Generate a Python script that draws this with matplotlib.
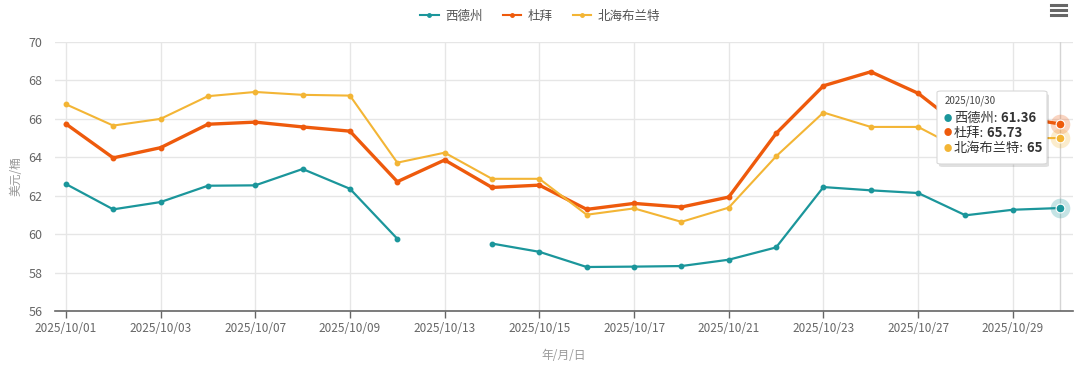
import numpy as np
import matplotlib
matplotlib.use("Agg")
import matplotlib.pyplot as plt
from matplotlib.patches import FancyBboxPatch
from matplotlib.lines import Line2D
from matplotlib.text import Annotation

plt.rcParams['font.family'] = ['Noto Sans CJK SC', 'DejaVu Sans']

# trading days (category axis)
dates = ["2025/10/01", "2025/10/02", "2025/10/03", "2025/10/06", "2025/10/07", "2025/10/08",
         "2025/10/09", "2025/10/10", "2025/10/13", "2025/10/14", "2025/10/15", "2025/10/16",
         "2025/10/17", "2025/10/20", "2025/10/21", "2025/10/22", "2025/10/23", "2025/10/24",
         "2025/10/27", "2025/10/28", "2025/10/29", "2025/10/30"]

wti = [62.61, 61.29, 61.67, 62.52, 62.54, 63.39, 62.36, 59.76, np.nan, 59.51, 59.08, 58.29,
       58.31, 58.34, 58.67, 59.31, 62.45, 62.28, 62.14, 60.98, 61.27, 61.36]
dubai = [65.74, 63.97, 64.50, 65.72, 65.83, 65.58, 65.36, 62.73, 63.86, 62.43, 62.55, 61.29,
         61.60, 61.41, 61.93, 65.24, 67.72, 68.45, 67.33, 65.40, 66.15, 65.73]
brent = [66.76, 65.65, 66.00, 67.18, 67.40, 67.25, 67.21, 63.72, 64.24, 62.88, 62.88, 61.01,
         61.34, 60.64, 61.38, 64.05, 66.33, 65.58, 65.58, 64.30, 65.00, 65.00]

names = ["西德州", "杜拜", "北海布兰特"]
colors = ["#1b969b", "#ee5a0c", "#f3b535"]
series = [wti, dubai, brent]
widths = [1.6, 2.4, 1.5]

fig = plt.figure(figsize=(10.8, 3.71), dpi=100)
ax = fig.add_axes([0.0509, 0.1617, 0.9426, 0.7251])

x = np.arange(len(dates))
for vals, c, lw, n in zip(series, colors, widths, names):
    ax.plot(x, vals, color=c, lw=lw, marker="o", ms=3.2, label=n, zorder=3)

# hover crosshair + halos on the last point
last = len(dates) - 1
ax.axvline(last, color="#d4d4d4", lw=1.0, zorder=1)
for vals, c in zip(series, colors):
    ax.scatter([last], [vals[last]], s=200, color=c, alpha=0.25, lw=0, zorder=4)
    ax.scatter([last], [vals[last]], s=40, color=c, edgecolor="white", lw=0.8, zorder=5)

ax.set_xlim(-0.23, last + 0.27)
ax.set_ylim(56, 70)
ax.set_yticks(np.arange(56, 71, 2))
ax.set_xticks(x[::2])
ax.set_xticklabels(dates[::2])
ax.grid(True, color="#e6e6e6", lw=1)
ax.set_axisbelow(True)
for s in ["top", "right", "left"]:
    ax.spines[s].set_visible(False)
ax.spines["bottom"].set_color("#666666")
ax.spines["bottom"].set_linewidth(1.2)
ax.tick_params(axis="y", length=0, pad=9, labelsize=9, labelcolor="#666666")
ax.tick_params(axis="x", length=5, width=1, color="#666666", pad=3, labelsize=8.5, labelcolor="#666666")
ax.set_ylabel("美元/桶", color="#999999", fontsize=8.5, labelpad=4)
ax.set_xlabel("年/月/日", color="#999999", fontsize=8.5, labelpad=10)

handles = [Line2D([], [], color=c, lw=1.5, marker="o", ms=2.5) for c in colors]
leg = fig.legend(handles, names, loc="center", bbox_to_anchor=(0.5, 1 - 16 / 371), ncol=3,
                 frameon=False, fontsize=9, handlelength=1.5, columnspacing=1.6, handletextpad=0.5)
for t in leg.get_texts():
    t.set_color("#555555")

# tooltip
tb = FancyBboxPatch((937 / 1080, 1 - 164 / 371), 110 / 1080, 73 / 371,
                    boxstyle="round,pad=0,rounding_size=0.004", transform=fig.transFigure,
                    facecolor="white", edgecolor="#d8d8d8", lw=0.8, zorder=10)
sh = FancyBboxPatch((939 / 1080, 1 - 167 / 371), 110 / 1080, 73 / 371,
                    boxstyle="round,pad=0,rounding_size=0.004", transform=fig.transFigure,
                    facecolor="#000000", alpha=0.12, lw=0, zorder=9)
fig.patches.extend([sh, tb])
fig.text(945 / 1080, 1 - 101 / 371, dates[last], fontsize=7, color="#444444", va="center", zorder=11)
rows_y = [118, 133, 148]
for vals, c, n, yy in zip(series, colors, names, rows_y):
    fig.text(948 / 1080, 1 - yy / 371, "●", fontsize=6, color=c, va="center", ha="center", zorder=11)
    t = fig.text(954 / 1080, 1 - yy / 371, n + ":", fontsize=9.5, color="#333333", va="center", zorder=11)
    v = Annotation(f" {vals[last]:g}", xy=(1, 0.5), xycoords=t, va="center", ha="left", fontsize=9.5,
                   color="#333333", fontweight="bold", zorder=11, annotation_clip=False)
    fig.add_artist(v)

# menu icon
for yy in [5, 10, 15]:
    fig.add_artist(Line2D([1051 / 1080, 1066 / 1080], [1 - yy / 371] * 2, color="#666666", lw=2.2,
                          transform=fig.transFigure))

fig.savefig("out.png", dpi=100)
